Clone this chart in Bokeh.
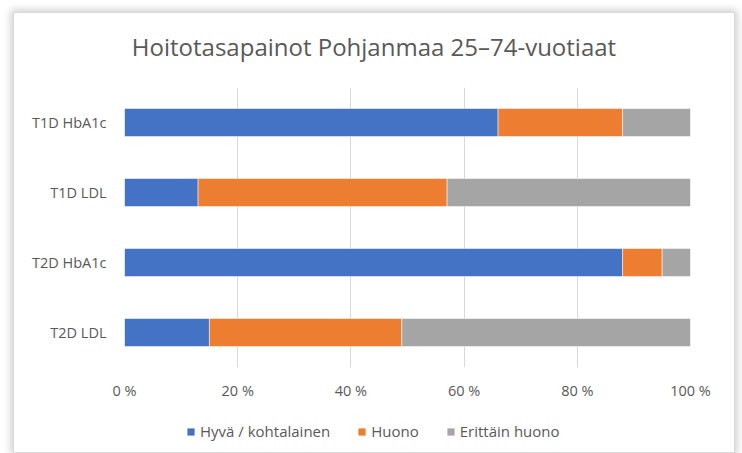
from bokeh.plotting import figure
from bokeh.models import FactorRange, Range1d, FixedTicker, Legend, LegendItem, Div
from bokeh.layouts import column
from bokeh.embed import file_html
from bokeh.resources import INLINE

title_text = "Hoitotasapainot Pohjanmaa 25–74-vuotiaat"
categories = ["T1D HbA1c", "T1D LDL", "T2D HbA1c", "T2D LDL"]
series_names = ["Hyvä / kohtalainen", "Huono", "Erittäin huono"]
hyva = [66, 13, 88, 15]
huono = [22, 44, 7, 34]
erittain = [12, 43, 5, 51]
x_ticks = [0, 20, 40, 60, 80, 100]
x_tick_labels = ["0 %", "20 %", "40 %", "60 %", "80 %", "100 %"]
colors = ["#4472C4", "#ED7D31", "#A5A5A5"]

TEXT = "#595959"
FONT = "Open Sans"

factors = list(reversed(categories))
data = {"cat": categories, "hyva": hyva, "huono": huono, "erittain": erittain}
stack_cols = ["hyva", "huono", "erittain"]

# ---- title strip ----
title_div = Div(text=title_text, width=720, height=67,
                styles={"font-family": FONT, "font-size": "24px", "color": TEXT,
                        "text-align": "center", "line-height": "67px",
                        "white-space": "nowrap", "background-color": "white"})
title_div.margin = (0, 0, 0, 0)

# ---- main chart ----
p = figure(width=720, height=325, output_backend="svg", toolbar_location=None,
           y_range=FactorRange(factors=factors, range_padding=0),
           x_range=Range1d(0, 100), title=None,
           min_border_left=110, min_border_right=44, min_border_top=7, min_border_bottom=38)

p.hbar_stack(stack_cols, y="cat", height=0.4, color=colors,
             line_color="white", line_width=0.5, source=data)

p.outline_line_color = None
p.background_fill_color = "white"
p.border_fill_color = "white"

p.xaxis.ticker = FixedTicker(ticks=x_ticks)
p.xaxis.major_label_overrides = {t: l for t, l in zip(x_ticks, x_tick_labels)}
for ax in (p.xaxis, p.yaxis):
    ax.axis_line_color = None
    ax.major_tick_line_color = None
    ax.minor_tick_line_color = None
    ax.major_tick_out = 0
    ax.major_tick_in = 0
    ax.major_label_text_color = TEXT
    ax.major_label_text_font = FONT
    ax.major_label_text_font_size = "14.5px"
p.xaxis.major_label_standoff = 13
p.yaxis.major_label_standoff = 18

p.xgrid.grid_line_color = "#D9D9D9"
p.xgrid.grid_line_width = 1
p.ygrid.grid_line_color = None

# ---- legend strip ----
q = figure(width=720, height=47, output_backend="svg", toolbar_location=None,
           y_range=FactorRange(factors=factors), x_range=Range1d(1000, 1100),
           x_axis_type=None, y_axis_type=None,
           min_border_left=0, min_border_right=0, min_border_top=0, min_border_bottom=0)
q.outline_line_color = None
q.background_fill_color = "white"
q.border_fill_color = "white"
q.grid.visible = False
legend_renderers = q.hbar_stack(stack_cols, y="cat", height=0, color=colors,
                                line_color=None, source=data)

legend = Legend(items=[LegendItem(label=n, renderers=[r]) for n, r in zip(series_names, legend_renderers)],
                orientation="horizontal", location=(62, 11))
legend.border_line_color = None
legend.background_fill_alpha = 0
legend.padding = 0
legend.margin = 0
legend.spacing = 27
legend.glyph_width = 9
legend.glyph_height = 9
legend.label_height = 16
legend.label_standoff = 5
legend.label_text_font = FONT
legend.label_text_font_size = "15px"
legend.label_text_color = TEXT
q.add_layout(legend, "center")

page = column(title_div, p, q, spacing=0)
page.margin = (13, 0, 0, 14)
page.styles = {"box-shadow": "0 0 0 1px #d9d9d9, 0 0 8px 3px rgba(0,0,0,0.20)",
               "background-color": "white"}

open("out.html", "w").write(file_html(page, INLINE))
